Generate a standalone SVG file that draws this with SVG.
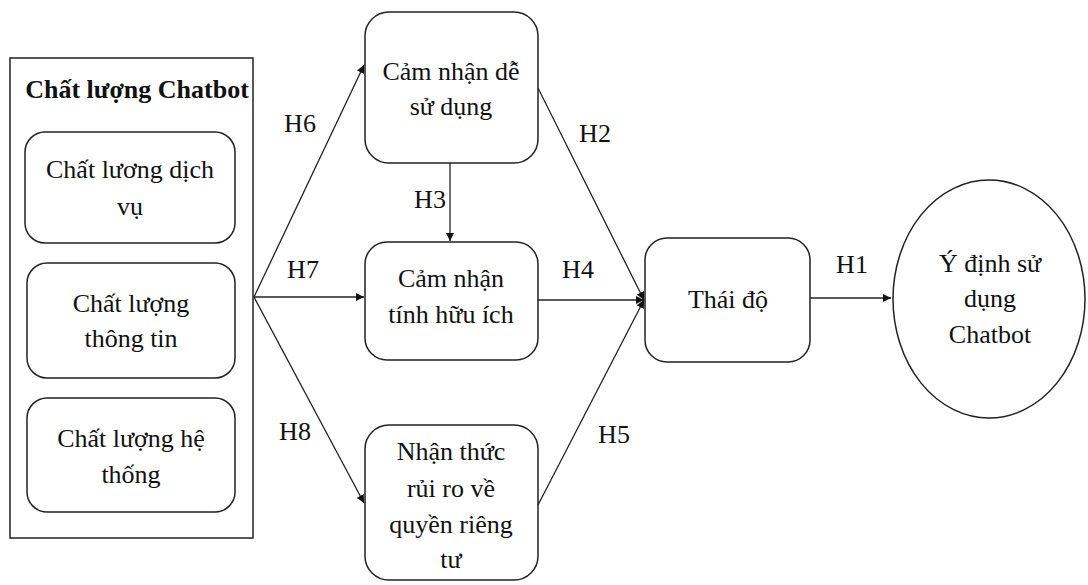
<svg xmlns="http://www.w3.org/2000/svg" width="1088" height="585" viewBox="0 0 1088 585">
<style>
.box{fill:#fff;stroke:#222;stroke-width:1.5}
.t{font-family:"Liberation Serif","Times New Roman",serif;font-size:26px;fill:#111;text-anchor:middle}
.b{font-weight:bold}
.c{stroke:#222;stroke-width:1.3;fill:none}
</style>
<defs>
<marker id="ah" viewBox="0 0 10 10" refX="10" refY="5" markerWidth="8" markerHeight="8" markerUnits="userSpaceOnUse" orient="auto">
<path d="M0,0 L10,5 L0,10 z" fill="#111"/>
</marker>
</defs>
<rect width="1088" height="585" fill="#fff"/>
<g id="chatbot-quality">
<rect x="10" y="58" width="243" height="480" fill="#fff" stroke="#222" stroke-width="1.5"/>
<text class="t b" x="137" y="98">Chất lượng Chatbot</text>
</g>
<g id="service-quality">
<rect class="box" x="25" y="132" width="210" height="111" rx="20"/>
<text class="t" x="130" y="178">Chất lương dịch</text>
<text class="t" x="130" y="215">vụ</text>
</g>
<g id="info-quality">
<rect class="box" x="27" y="263" width="208" height="115" rx="20"/>
<text class="t" x="131" y="312">Chất lượng</text>
<text class="t" x="131" y="347">thông tin</text>
</g>
<g id="system-quality">
<rect class="box" x="27" y="398" width="208" height="114" rx="20"/>
<text class="t" x="131" y="447">Chất lượng hệ</text>
<text class="t" x="131" y="483">thống</text>
</g>
<g id="ease-of-use">
<rect class="box" x="365" y="12" width="173" height="151" rx="24"/>
<text class="t" x="451" y="80">Cảm nhận dễ</text>
<text class="t" x="451" y="115">sử dụng</text>
</g>
<g id="usefulness">
<rect class="box" x="365" y="242" width="173" height="118" rx="22"/>
<text class="t" x="451" y="287">Cảm nhận</text>
<text class="t" x="451" y="323">tính hữu ích</text>
</g>
<g id="privacy-risk">
<rect class="box" x="365" y="425" width="173" height="155" rx="24"/>
<text class="t" x="451" y="460">Nhận thức</text>
<text class="t" x="451" y="497">rủi ro về</text>
<text class="t" x="451" y="533">quyền riêng</text>
<text class="t" x="451" y="568">tư</text>
</g>
<g id="attitude">
<rect class="box" x="645" y="238" width="165" height="124" rx="22"/>
<text class="t" x="728" y="308">Thái độ</text>
</g>
<g id="intention">
<ellipse class="box" cx="989" cy="299" rx="96" ry="119"/>
<text class="t" x="990" y="272">Ý định sử</text>
<text class="t" x="990" y="307">dụng</text>
<text class="t" x="990" y="343">Chatbot</text>
</g>
<g id="connectors">
<line class="c" x1="254" y1="297" x2="364" y2="65" marker-end="url(#ah)"/>
<line class="c" x1="254" y1="297" x2="364" y2="297" marker-end="url(#ah)"/>
<line class="c" x1="254" y1="297" x2="364" y2="503" marker-end="url(#ah)"/>
<line class="c" x1="450" y1="163" x2="450" y2="241" marker-end="url(#ah)"/>
<line class="c" x1="538" y1="88" x2="644" y2="300" marker-end="url(#ah)"/>
<line class="c" x1="538" y1="300" x2="644" y2="300" marker-end="url(#ah)"/>
<line class="c" x1="538" y1="505" x2="644" y2="300" marker-end="url(#ah)"/>
<line class="c" x1="810" y1="298" x2="891" y2="298" marker-end="url(#ah)"/>
<text class="t" x="300" y="132">H6</text>
<text class="t" x="303" y="278">H7</text>
<text class="t" x="295" y="440">H8</text>
<text class="t" x="430" y="208">H3</text>
<text class="t" x="595" y="142">H2</text>
<text class="t" x="578" y="278">H4</text>
<text class="t" x="614" y="443">H5</text>
<text class="t" x="852" y="273">H1</text>
</g>
</svg>
